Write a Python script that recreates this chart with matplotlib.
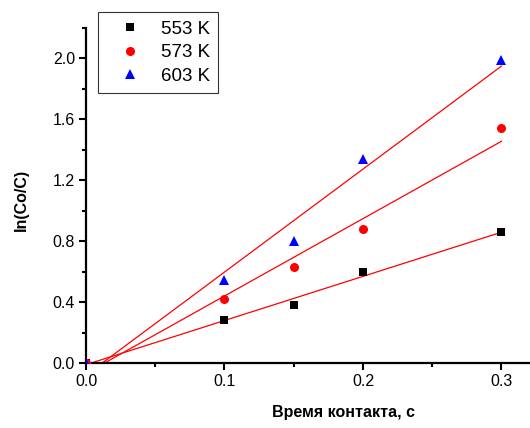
import numpy as np
import matplotlib
matplotlib.use("Agg")
import matplotlib.pyplot as plt
from matplotlib.ticker import MultipleLocator

plt.rcParams['font.family'] = ['Liberation Sans', 'DejaVu Sans']

x = [0.0, 0.1, 0.15, 0.2, 0.3]
y553 = [0.0, 0.28, 0.38, 0.60, 0.86]
y573 = [0.0, 0.42, 0.63, 0.88, 1.54]
y603 = [0.0, 0.546, 0.80, 1.34, 1.99]
labels = ["553 K", "573 K", "603 K"]
series = [y553, y573, y603]
colors = ["black", "red", "blue"]
markers = ["s", "o", "^"]
msizes = [5.5, 6.5, 7]

fig = plt.figure(figsize=(5.30, 4.28), dpi=100)
ax = fig.add_axes([86/530, 1-363/428, (530-86)/530, (363-28)/428])

xx = np.array(x)
for ys in series:
    k, b = np.polyfit(xx, np.array(ys), 1)
    xl = np.array([0.0, 0.3])
    ax.plot(xl, k*xl + b, color='red', lw=0.9, zorder=2)

handles = []
for ys, lab, c, m, ms in zip(series, labels, colors, markers, msizes):
    h, = ax.plot(x, ys, linestyle='none', marker=m, color=c, markersize=ms,
                 markeredgewidth=0, label=lab, zorder=3)
    handles.append(h)

ax.set_xlim(0, 0.3206)
ax.set_ylim(0, 2.2)
ax.xaxis.set_major_locator(MultipleLocator(0.1))
ax.xaxis.set_minor_locator(MultipleLocator(0.05))
ax.yaxis.set_major_locator(MultipleLocator(0.4))
ax.yaxis.set_minor_locator(MultipleLocator(0.2))
ax.xaxis.set_major_formatter(matplotlib.ticker.FormatStrFormatter('%.1f'))
ax.yaxis.set_major_formatter(matplotlib.ticker.FormatStrFormatter('%.1f'))

for s in ['top', 'right']:
    ax.spines[s].set_visible(False)
for s in ['left', 'bottom']:
    ax.spines[s].set_linewidth(1.6)
ax.tick_params(which='major', direction='out', length=5, width=1.5, labelsize=11.5, pad=3)
ax.tick_params(which='minor', direction='out', length=3, width=1.5)

fig.text(21/530, 1-200/428, "ln(Co/C)", rotation=90, ha='center', va='center',
         fontsize=11.5, fontweight='bold')
fig.text(344/530, 1-412/428, "Время контакта, с", ha='center', va='center',
         fontsize=11.5, fontweight='bold')

leg = ax.legend(handles=handles, loc='upper left', bbox_to_anchor=(98/530, 1-12/428),
                bbox_transform=fig.transFigure, fontsize=13.5, frameon=True, fancybox=False,
                edgecolor='black', borderpad=0.45, handlelength=2.5, handletextpad=0.4,
                labelspacing=0.35, borderaxespad=0)
leg.get_frame().set_linewidth(0.8)

fig.savefig("out.png", dpi=100)
